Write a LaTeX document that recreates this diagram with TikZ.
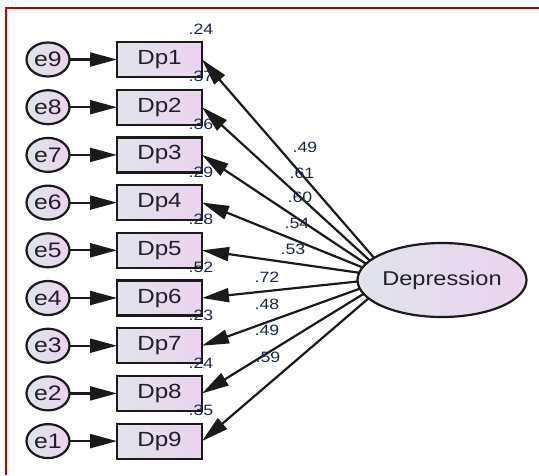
\documentclass[tikz,border=0pt]{standalone}
\usepackage{fontspec}
\setmainfont{Liberation Sans}
\newfontfamily\amosfont[FakeStretch=1.18]{Liberation Sans}
\usetikzlibrary{arrows.meta,shapes.geometric}
\definecolor{boxleft}{HTML}{E1E4EC}
\definecolor{boxright}{HTML}{EBD3EE}
\definecolor{edge}{HTML}{1A1A1A}
\definecolor{nametext}{HTML}{1E1E2C}
\definecolor{coeftext}{HTML}{1A2744}
\definecolor{frame}{HTML}{C00000}
\begin{document}
\begin{tikzpicture}[x=1pt,y=-1pt,
  obsbox/.style={draw=edge, line width=2.2pt, left color=boxleft, right color=boxright, minimum width=85pt, minimum height=35pt, inner sep=0pt, outer sep=0pt, text=nametext, font=\amosfont\fontsize{20.5}{24}\selectfont},
  errnode/.style={ellipse, draw=edge, line width=2.2pt, left color=boxleft, right color=boxright, minimum width=43pt, minimum height=34pt, inner sep=0pt, outer sep=0pt, text=nametext, font=\amosfont\fontsize{21}{24}\selectfont},
  latent/.style={ellipse, draw=edge, line width=2.2pt, left color=boxleft, right color=boxright, minimum width=169pt, minimum height=74pt, inner sep=0pt, outer sep=0pt, text=nametext, font=\amosfont\fontsize{20}{24}\selectfont},
  coef/.style={inner sep=0pt, text=coeftext, font=\amosfont\fontsize{15}{17}\selectfont},
  path/.style={draw=edge, line width=2.2pt, -{Triangle[length=27pt,width=14pt]}}]
\useasboundingbox (0,0) rectangle (539,475);
\draw[frame, line width=2.2pt] (6,475) -- (6,8) -- (539,8);
\node[latent] (dep) at (442,280) {Depression};
\node[obsbox] (dp1) at (159.5,59.5) {Dp1};
\node[obsbox] (dp2) at (159.5,107.2) {Dp2};
\node[obsbox] (dp3) at (159.5,154.9) {Dp3};
\node[obsbox] (dp4) at (159.5,202.6) {Dp4};
\node[obsbox] (dp5) at (159.5,250.3) {Dp5};
\node[obsbox] (dp6) at (159.5,298.0) {Dp6};
\node[obsbox] (dp7) at (159.5,345.7) {Dp7};
\node[obsbox] (dp8) at (159.5,393.4) {Dp8};
\node[obsbox] (dp9) at (159.5,441.1) {Dp9};
\node[errnode] (e9) at (48,59.5) {e9};
\node[errnode] (e8) at (48,107.2) {e8};
\node[errnode] (e7) at (48,154.9) {e7};
\node[errnode] (e6) at (48,202.6) {e6};
\node[errnode] (e5) at (48,250.3) {e5};
\node[errnode] (e4) at (48,298.0) {e4};
\node[errnode] (e3) at (48,345.7) {e3};
\node[errnode] (e2) at (48,393.4) {e2};
\node[errnode] (e1) at (48,441.1) {e1};
\draw[path] (e9) -- (dp1);
\draw[path] (e8) -- (dp2);
\draw[path] (e7) -- (dp3);
\draw[path] (e6) -- (dp4);
\draw[path] (e5) -- (dp5);
\draw[path] (e4) -- (dp6);
\draw[path] (e3) -- (dp7);
\draw[path] (e2) -- (dp8);
\draw[path] (e1) -- (dp9);
\draw[path] (dep.162) -- (dp1.east);
\draw[path] (dep.165) -- (dp2.east);
\draw[path] (dep.168) -- (dp3.east);
\draw[path] (dep.171) -- (dp4.east);
\draw[path] (dep.175) -- (dp5.east);
\draw[path] (dep.181) -- (dp6.east);
\draw[path] (dep.186) -- (dp7.east);
\draw[path] (dep.190) -- (dp8.east);
\draw[path] (dep.194) -- (dp9.east);
\node[coef] (r1) at (201,29) {.24};
\node[coef] (r2) at (201,76.7) {.37};
\node[coef] (r3) at (201,124.4) {.36};
\node[coef] (r4) at (201,172.1) {.29};
\node[coef] (r5) at (201,219.8) {.28};
\node[coef] (r6) at (201,267.5) {.52};
\node[coef] (r7) at (201,315.2) {.23};
\node[coef] (r8) at (201,362.9) {.24};
\node[coef] (r9) at (201,410.6) {.35};
\node[coef] (w1) at (305,147) {.49};
\node[coef] (w2) at (302,173) {.61};
\node[coef] (w3) at (300,197) {.60};
\node[coef] (w4) at (297,223) {.54};
\node[coef] (w5) at (293,249) {.53};
\node[coef] (w6) at (267,277) {.72};
\node[coef] (w7) at (267,304) {.48};
\node[coef] (w8) at (267,330) {.49};
\node[coef] (w9) at (268,357) {.59};
\end{tikzpicture}
\end{document}
